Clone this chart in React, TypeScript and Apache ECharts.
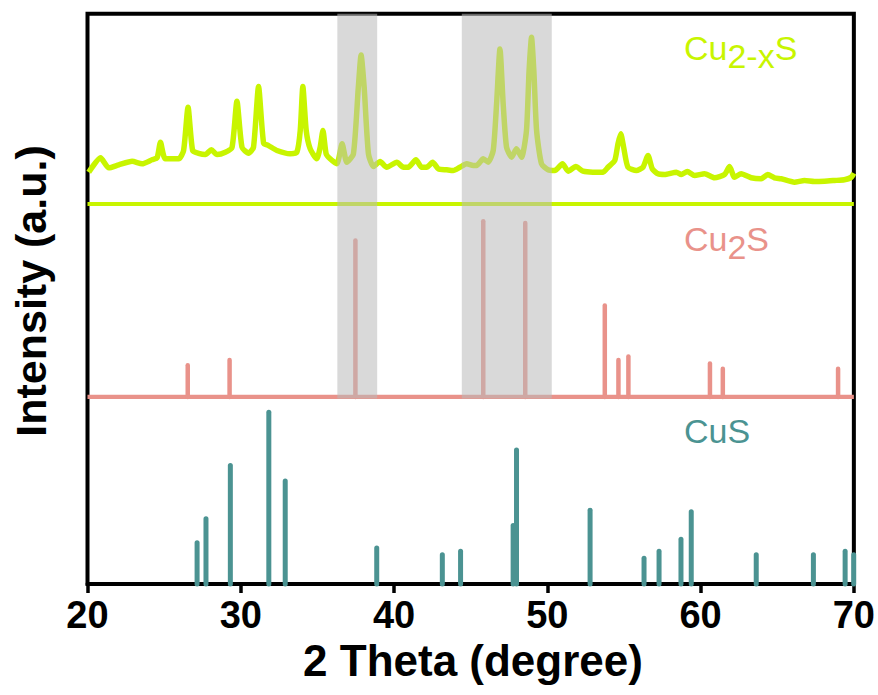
import React, { useEffect, useRef } from 'react';
import * as echarts from 'echarts';

// X axis ticks (2 theta, degree)
const xTicks = [20, 30, 40, 50, 60, 70];

// Measured Cu2-xS pattern (2θ in degree, intensity in a.u.)
const xrdTheta = [
  20.08, 20.85, 21.39, 22.04, 22.91, 23.56, 24.21, 24.54, 24.76, 25.08,
  25.95, 26.27, 26.56, 26.86, 27.25, 27.69, 28.08, 28.45, 28.99, 29.43,
  29.75, 30.08, 30.51, 30.83, 31.16, 31.49, 31.81, 32.36, 33.22, 33.66,
  33.88, 34.05, 34.27, 34.53, 34.96, 35.18, 35.36, 35.57, 35.83, 36.27,
  36.61, 36.92, 37.35, 37.67, 37.85, 38.05, 38.33, 38.65, 39.09, 39.52,
  40.18, 40.61, 40.93, 41.43, 41.8, 42.13, 42.52, 42.89, 43.43, 43.86,
  44.3, 44.74, 45.17, 45.39, 45.82, 46.14, 46.47, 46.69, 46.91, 47.12,
  47.34, 47.67, 47.99, 48.32, 48.64, 48.81, 48.97, 49.12, 49.3, 49.62,
  50.05, 50.49, 50.99, 51.36, 51.86, 52.33, 52.98, 53.64, 53.96, 54.4,
  54.61, 54.79, 54.98, 55.26, 55.81, 56.24, 56.57, 56.85, 57.22, 57.65,
  58.42, 58.74, 59.13, 59.61, 60.26, 60.91, 61.56, 61.89, 62.21, 62.65,
  63.3, 63.95, 64.38, 64.82, 65.26, 66.12, 66.78, 67.43, 68.08, 68.73,
  69.38, 69.82, 70.0,
];
const xrdIntensity = [
  72.21, 74.73, 72.98, 73.5, 74.13, 73.68, 74.38, 74.73, 77.46, 74.55,
  74.55, 76.01, 83.59, 76.01, 75.53, 75.31, 76.13, 75.31, 75.71, 76.58,
  84.64, 76.58, 75.53, 76.58, 87.22, 77.29, 76.88, 76.01, 75.43, 75.71,
  79.51, 87.22, 79.51, 76.3, 74.55, 76.58, 79.51, 75.43, 74.55, 73.68,
  77.18, 73.96, 75.43, 87.09, 92.77, 87.09, 75.43, 73.2, 74.08, 73.08,
  73.96, 73.08, 73.08, 74.38, 73.08, 73.08, 73.96, 72.8, 72.63, 72.5,
  73.08, 73.68, 73.38, 73.38, 74.55, 73.96, 76.01, 84.19, 93.82, 84.19,
  76.58, 74.83, 76.3, 74.83, 79.51, 90.02, 95.85, 90.02, 79.51, 73.68,
  72.63, 72.5, 73.68, 72.38, 73.2, 72.38, 72.21, 72.21, 73.08, 74.26,
  77.18, 78.93, 76.58, 73.08, 72.5, 73.08, 75.13, 72.8, 71.93, 71.8,
  72.21, 71.8, 72.33, 71.63, 71.93, 71.23, 71.8, 73.2, 71.33, 71.93,
  71.23, 71.05, 71.8, 71.23, 71.05, 70.46, 70.75, 70.58, 70.63, 70.75,
  70.88, 71.3, 72.03,
];
const cu2xSBaseline = 66.64;

// Cu2S reference pattern (relative intensity %)
const cu2sTheta = [26.54, 29.27, 37.48, 45.82, 48.56, 53.75, 54.64, 55.29, 60.61, 61.45, 68.97];
const cu2sRel = [18, 21, 89, 100, 99, 52, 21, 23, 19, 16, 16];
const cu2sBaseline = 32.8;
const cu2sScale = 0.308;

// CuS reference pattern (relative intensity %)
const cusTheta = [27.15, 27.73, 29.32, 31.83, 32.9, 38.87, 43.15, 44.34, 47.77, 47.99, 52.79, 56.31, 57.29, 58.72, 59.39, 63.63, 67.36, 69.43, 69.99];
const cusRel = [24, 38, 69, 100, 60, 21, 17, 19, 34, 78, 43, 15, 19, 26, 42, 17, 17, 19, 17];
const cusBaseline = 0;
const cusScale = 0.3012;

// Highlighted 2θ ranges
const bandStart = [36.3, 44.42];
const bandEnd = [38.9, 50.29];
const bandBottom = 32.52;

const GREEN = '#c8f500';
const SALMON = '#e9928a';
const TEAL = '#4b9392';
const FONT = "'Liberation Sans', Arial, sans-serif";

function stickSeries(theta: number[], rel: number[], base: number, scale: number, color: string, width: number) {
  return {
    type: 'custom',
    z: 3,
    clip: false,
    data: theta.map((t, i) => [t, rel[i]]),
    encode: { x: 0, y: 1 },
    renderItem: (_p: any, api: any) => {
      const x = api.value(0);
      const h = api.value(1);
      const p0 = api.coord([x, base]);
      const p1 = api.coord([x, base + h * scale]);
      return {
        type: 'line',
        shape: { x1: p0[0], y1: p0[1], x2: p1[0], y2: p1[1] },
        style: { stroke: color, lineWidth: width, lineCap: 'round' },
      };
    },
  };
}

export default function App() {
  const ref = useRef<HTMLDivElement>(null);
  useEffect(() => {
    const chart = echarts.init(ref.current!, null, { renderer: 'svg' });
    const option: any = {
      animation: false,
      backgroundColor: '#ffffff',
      grid: {
        left: 87.5, right: 22, top: 13.7, bottom: 111,
        show: true, borderColor: '#000', borderWidth: 4, backgroundColor: 'transparent',
      },
      xAxis: {
        type: 'value', min: xTicks[0], max: xTicks[xTicks.length - 1], interval: 10,
        axisLine: { show: true, lineStyle: { color: '#000', width: 4 } },
        axisTick: { show: true, length: 9, lineStyle: { color: '#000', width: 3.5 } },
        axisLabel: { show: true, margin: 12, fontSize: 38, fontWeight: 'bold', color: '#000', fontFamily: FONT },
        splitLine: { show: false },
      },
      yAxis: {
        type: 'value', min: 0, max: 100,
        axisLine: { show: false }, axisTick: { show: false }, axisLabel: { show: false }, splitLine: { show: false },
      },
      series: [
        {
          type: 'line', z: 2, showSymbol: false, smooth: 0.2,
          data: xrdTheta.map((t, i) => [t, xrdIntensity[i]]),
          lineStyle: { color: GREEN, width: 5.5, join: 'round' },
        },
        {
          type: 'line', z: 2, showSymbol: false,
          data: [[xTicks[0], cu2xSBaseline], [xTicks[xTicks.length - 1], cu2xSBaseline]],
          lineStyle: { color: GREEN, width: 4 },
        },
        {
          type: 'line', z: 2, showSymbol: false,
          data: [[xTicks[0], cu2sBaseline], [xTicks[xTicks.length - 1], cu2sBaseline]],
          lineStyle: { color: SALMON, width: 4.3 },
        },
        stickSeries(cu2sTheta, cu2sRel, cu2sBaseline, cu2sScale, SALMON, 4.5),
        stickSeries(cusTheta, cusRel, cusBaseline, cusScale, TEAL, 5),
        {
          type: 'custom', z: 10, clip: false,
          data: bandStart.map((s, i) => [s, bandEnd[i]]),
          encode: { x: [0, 1] },
          renderItem: (_p: any, api: any) => {
            const a = api.coord([api.value(0), 100]);
            const b = api.coord([api.value(1), bandBottom]);
            return {
              type: 'rect',
              shape: { x: a[0], y: a[1], width: b[0] - a[0], height: b[1] - a[1] },
              style: { fill: 'rgba(185,185,185,0.55)' },
            };
          },
        },
      ],
      graphic: [
        {
          type: 'text', x: 684, y: 47.5, z: 20,
          style: {
            text: '{n|Cu}{s|2-x}{n|S}', fill: GREEN, fontFamily: FONT,
            align: 'left', verticalAlign: 'middle',
            rich: {
              n: { fontSize: 34, lineHeight: 34, fill: GREEN, fontFamily: FONT },
              s: { fontSize: 34, lineHeight: 34, fill: GREEN, fontFamily: FONT, padding: [16, 0, 0, 0] },
            },
          },
        },
        {
          type: 'text', x: 684, y: 238.7, z: 20,
          style: {
            text: '{n|Cu}{s|2}{n|S}', fill: SALMON, fontFamily: FONT,
            align: 'left', verticalAlign: 'middle',
            rich: {
              n: { fontSize: 34, lineHeight: 34, fill: SALMON, fontFamily: FONT },
              s: { fontSize: 34, lineHeight: 34, fill: SALMON, fontFamily: FONT, padding: [17, 0, 0, 0] },
            },
          },
        },
        {
          type: 'text', x: 684, y: 430.5, z: 20,
          style: {
            text: 'CuS', fill: TEAL, fontFamily: FONT, fontSize: 34,
            align: 'left', verticalAlign: 'middle',
          },
        },
        {
          type: 'text', x: 473, y: 660, z: 20,
          style: {
            text: '2 Theta (degree)', fill: '#000', fontFamily: FONT, fontSize: 44, fontWeight: 'bold',
            align: 'center', verticalAlign: 'middle',
          },
        },
        {
          type: 'text', x: 31, y: 291, z: 20, rotation: Math.PI / 2,
          style: {
            text: 'Intensity (a.u.)', fill: '#000', fontFamily: FONT, fontSize: 43, fontWeight: 'bold',
            align: 'center', verticalAlign: 'middle',
          },
        },
      ],
    };
    chart.setOption(option);
    return () => chart.dispose();
  }, []);
  return <div ref={ref} style={{ position: 'fixed', left: 0, top: 0, width: 878, height: 695 }} />;
}
